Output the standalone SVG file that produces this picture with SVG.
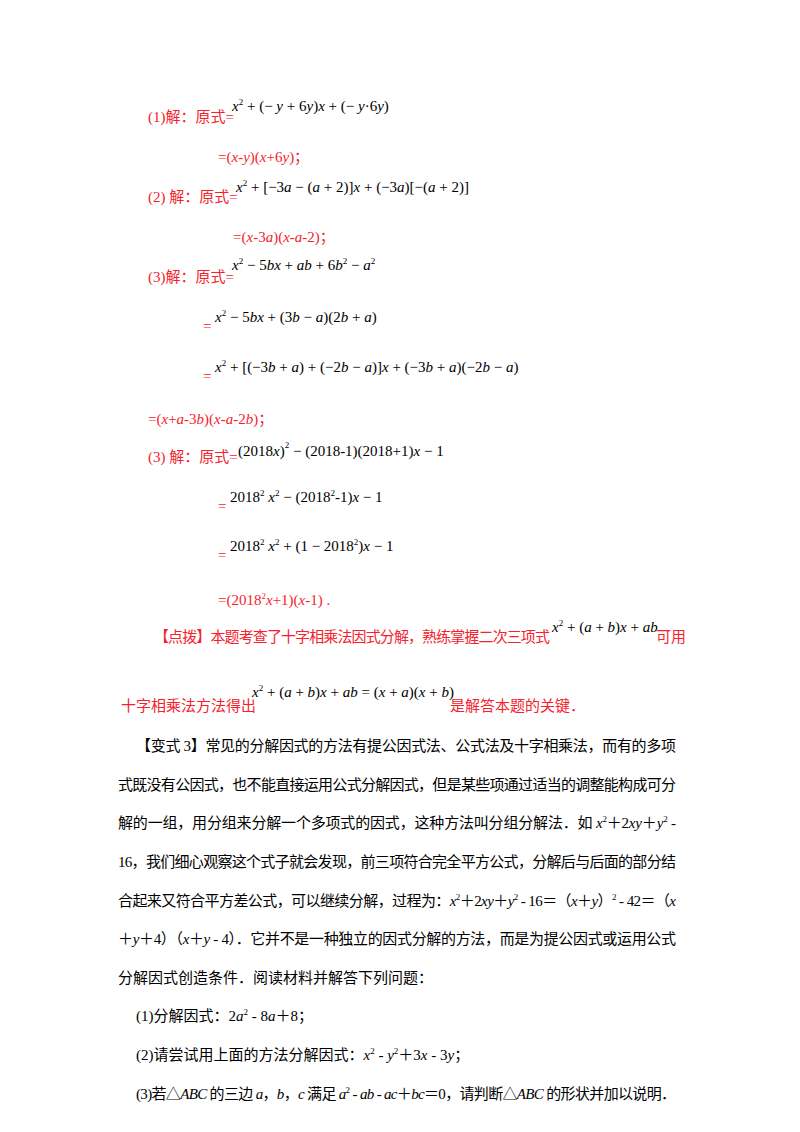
<svg xmlns="http://www.w3.org/2000/svg" width="800" height="1132" viewBox="0 0 800 1132">
<style>
text{font-family:"Liberation Serif","Noto Sans CJK SC",serif;}
.r{fill:#f5222d;font-size:15px;}
.m{fill:#000;font-size:15px;font-style:italic;}
.n{font-style:normal;}
.b{fill:#000;font-size:15px;}
.s{font-size:9px;}
</style>
<rect width="800" height="1132" fill="#fff"/>
<g id="sol1">
<text class="r" x="148" y="122">(1)解：原式=</text>
<text class="m" x="232" y="111">x<tspan class="s n" dy="-6">2</tspan><tspan class="n" dy="6"> + (− </tspan>y<tspan class="n"> + 6</tspan>y<tspan class="n">)</tspan>x<tspan class="n"> + (− </tspan>y<tspan class="n">·6</tspan>y<tspan class="n">)</tspan></text>
<text class="r" x="218" y="162">=(<tspan font-style="italic">x</tspan>-<tspan font-style="italic">y</tspan>)(<tspan font-style="italic">x</tspan>+6<tspan font-style="italic">y</tspan>)；</text>
</g>
<g id="sol2">
<text class="r" x="148" y="202">(2) 解：原式=</text>
<text class="m" x="236" y="192">x<tspan class="s n" dy="-6">2</tspan><tspan class="n" dy="6"> + [−3</tspan>a<tspan class="n"> − (</tspan>a<tspan class="n"> + 2)]</tspan>x<tspan class="n"> + (−3</tspan>a<tspan class="n">)[−(</tspan>a<tspan class="n"> + 2)]</tspan></text>
<text class="r" x="233" y="242">=(<tspan font-style="italic">x</tspan>-3<tspan font-style="italic">a</tspan>)(<tspan font-style="italic">x</tspan>-<tspan font-style="italic">a</tspan>-2)；</text>
</g>
<g id="sol3">
<text class="r" x="148" y="282">(3)解：原式=</text>
<text class="m" x="232" y="270">x<tspan class="s n" dy="-6">2</tspan><tspan class="n" dy="6"> − 5</tspan>bx<tspan class="n"> + </tspan>ab<tspan class="n"> + 6</tspan>b<tspan class="s n" dy="-6">2</tspan><tspan class="n" dy="6"> − </tspan>a<tspan class="s n" dy="-6">2</tspan></text>
<text class="r" x="203" y="331">=</text>
<text class="m" x="215" y="322">x<tspan class="s n" dy="-6">2</tspan><tspan class="n" dy="6"> − 5</tspan>bx<tspan class="n"> + (3</tspan>b<tspan class="n"> − </tspan>a<tspan class="n">)(2</tspan>b<tspan class="n"> + </tspan>a<tspan class="n">)</tspan></text>
<text class="r" x="203" y="381">=</text>
<text class="m" x="215" y="372">x<tspan class="s n" dy="-6">2</tspan><tspan class="n" dy="6"> + [(−3</tspan>b<tspan class="n"> + </tspan>a<tspan class="n">) + (−2</tspan>b<tspan class="n"> − </tspan>a<tspan class="n">)]</tspan>x<tspan class="n"> + (−3</tspan>b<tspan class="n"> + </tspan>a<tspan class="n">)(−2</tspan>b<tspan class="n"> − </tspan>a<tspan class="n">)</tspan></text>
<text class="r" x="148" y="424">=(<tspan font-style="italic">x</tspan>+<tspan font-style="italic">a</tspan>-3<tspan font-style="italic">b</tspan>)(<tspan font-style="italic">x</tspan>-<tspan font-style="italic">a</tspan>-2<tspan font-style="italic">b</tspan>)；</text>
</g>
<g id="sol4">
<text class="r" x="148" y="462">(3) 解：原式=</text>
<text class="m" x="238" y="456"><tspan class="n">(2018</tspan>x<tspan class="n">)</tspan><tspan class="s n" dy="-8">2</tspan><tspan class="n" dy="8"> − (2018-1)(2018+1)</tspan>x<tspan class="n"> − 1</tspan></text>
<text class="r" x="218" y="511">=</text>
<text class="m" x="230" y="502"><tspan class="n">2018</tspan><tspan class="s n" dy="-6">2</tspan><tspan dy="6"> x</tspan><tspan class="s n" dy="-6">2</tspan><tspan class="n" dy="6"> − (2018</tspan><tspan class="s n" dy="-6">2</tspan><tspan class="n" dy="6">-1)</tspan>x<tspan class="n"> − 1</tspan></text>
<text class="r" x="218" y="560">=</text>
<text class="m" x="230" y="551"><tspan class="n">2018</tspan><tspan class="s n" dy="-6">2</tspan><tspan dy="6"> x</tspan><tspan class="s n" dy="-6">2</tspan><tspan class="n" dy="6"> + (1 − 2018</tspan><tspan class="s n" dy="-6">2</tspan><tspan class="n" dy="6">)</tspan>x<tspan class="n"> − 1</tspan></text>
<text class="r" x="218" y="605">=(2018<tspan class="s" dy="-6">2</tspan><tspan dy="6" font-style="italic">x</tspan>+1)(<tspan font-style="italic">x</tspan>-1)  .</text>
</g>
<g id="tip">
<text class="r" x="154" y="642" textLength="396">【点拨】本题考查了十字相乘法因式分解，熟练掌握二次三项式</text>
<text class="m" x="552" y="632">x<tspan class="s n" dy="-6">2</tspan><tspan class="n" dy="6"> + (</tspan>a<tspan class="n"> + </tspan>b<tspan class="n">)</tspan>x<tspan class="n"> + </tspan>ab</text>
<text class="r" x="656" y="642">可用</text>
<text class="r" x="121" y="711">十字相乘法方法得出</text>
<text class="m" x="252" y="697">x<tspan class="s n" dy="-6">2</tspan><tspan class="n" dy="6"> + (</tspan>a<tspan class="n"> + </tspan>b<tspan class="n">)</tspan>x<tspan class="n"> + </tspan>ab<tspan class="n"> = (</tspan>x<tspan class="n"> + </tspan>a<tspan class="n">)(</tspan>x<tspan class="n"> + </tspan>b<tspan class="n">)</tspan></text>
<text class="r" x="450" y="711">是解答本题的关键．</text>
</g>
<g id="problem">
<text class="b" x="136" y="751" textLength="540">【变式 3】常见的分解因式的方法有提公因式法、公式法及十字相乘法，而有的多项</text>
<text class="b" x="118" y="790" textLength="558">式既没有公因式，也不能直接运用公式分解因式，但是某些项通过适当的调整能构成可分</text>
<text class="b" x="118" y="828" textLength="558">解的一组，用分组来分解一个多项式的因式，这种方法叫分组分解法．如 <tspan font-style="italic">x</tspan><tspan class="s" dy="-6">2</tspan><tspan dy="6">＋2</tspan><tspan font-style="italic">xy</tspan>＋<tspan font-style="italic">y</tspan><tspan class="s" dy="-6">2</tspan><tspan dy="6"> -</tspan></text>
<text class="b" x="118" y="867" textLength="558">16，我们细心观察这个式子就会发现，前三项符合完全平方公式，分解后与后面的部分结</text>
<text class="b" x="118" y="906" textLength="558">合起来又符合平方差公式，可以继续分解，过程为：<tspan font-style="italic">x</tspan><tspan class="s" dy="-6">2</tspan><tspan dy="6">＋2</tspan><tspan font-style="italic">xy</tspan>＋<tspan font-style="italic">y</tspan><tspan class="s" dy="-6">2</tspan><tspan dy="6"> - 16＝（</tspan><tspan font-style="italic">x</tspan>＋<tspan font-style="italic">y</tspan>）<tspan class="s" dy="-6">2</tspan><tspan dy="6"> - 42＝（</tspan><tspan font-style="italic">x</tspan></text>
<text class="b" x="118" y="944" textLength="558">＋<tspan font-style="italic">y</tspan>＋4）（<tspan font-style="italic">x</tspan>＋<tspan font-style="italic">y</tspan> - 4）．它并不是一种独立的因式分解的方法，而是为提公因式或运用公式</text>
<text class="b" x="118" y="983">分解因式创造条件．阅读材料并解答下列问题：</text>
<text class="b" x="136" y="1021">(1)分解因式：2<tspan font-style="italic">a</tspan><tspan class="s" dy="-6">2</tspan><tspan dy="6"> - 8</tspan><tspan font-style="italic">a</tspan>＋8；</text>
<text class="b" x="136" y="1060">(2)请尝试用上面的方法分解因式：<tspan font-style="italic">x</tspan><tspan class="s" dy="-6">2</tspan><tspan dy="6"> - </tspan><tspan font-style="italic">y</tspan><tspan class="s" dy="-6">2</tspan><tspan dy="6">＋3</tspan><tspan font-style="italic">x</tspan> - 3<tspan font-style="italic">y</tspan>；</text>
<text class="b" x="136" y="1099" textLength="540">(3)若△<tspan font-style="italic">ABC</tspan> 的三边 <tspan font-style="italic">a</tspan>，<tspan font-style="italic">b</tspan>，<tspan font-style="italic">c</tspan> 满足 <tspan font-style="italic">a</tspan><tspan class="s" dy="-6">2</tspan><tspan dy="6"> - </tspan><tspan font-style="italic">ab</tspan> - <tspan font-style="italic">ac</tspan>＋<tspan font-style="italic">bc</tspan>＝0，请判断△<tspan font-style="italic">ABC</tspan> 的形状并加以说明．</text>
</g>
</svg>
